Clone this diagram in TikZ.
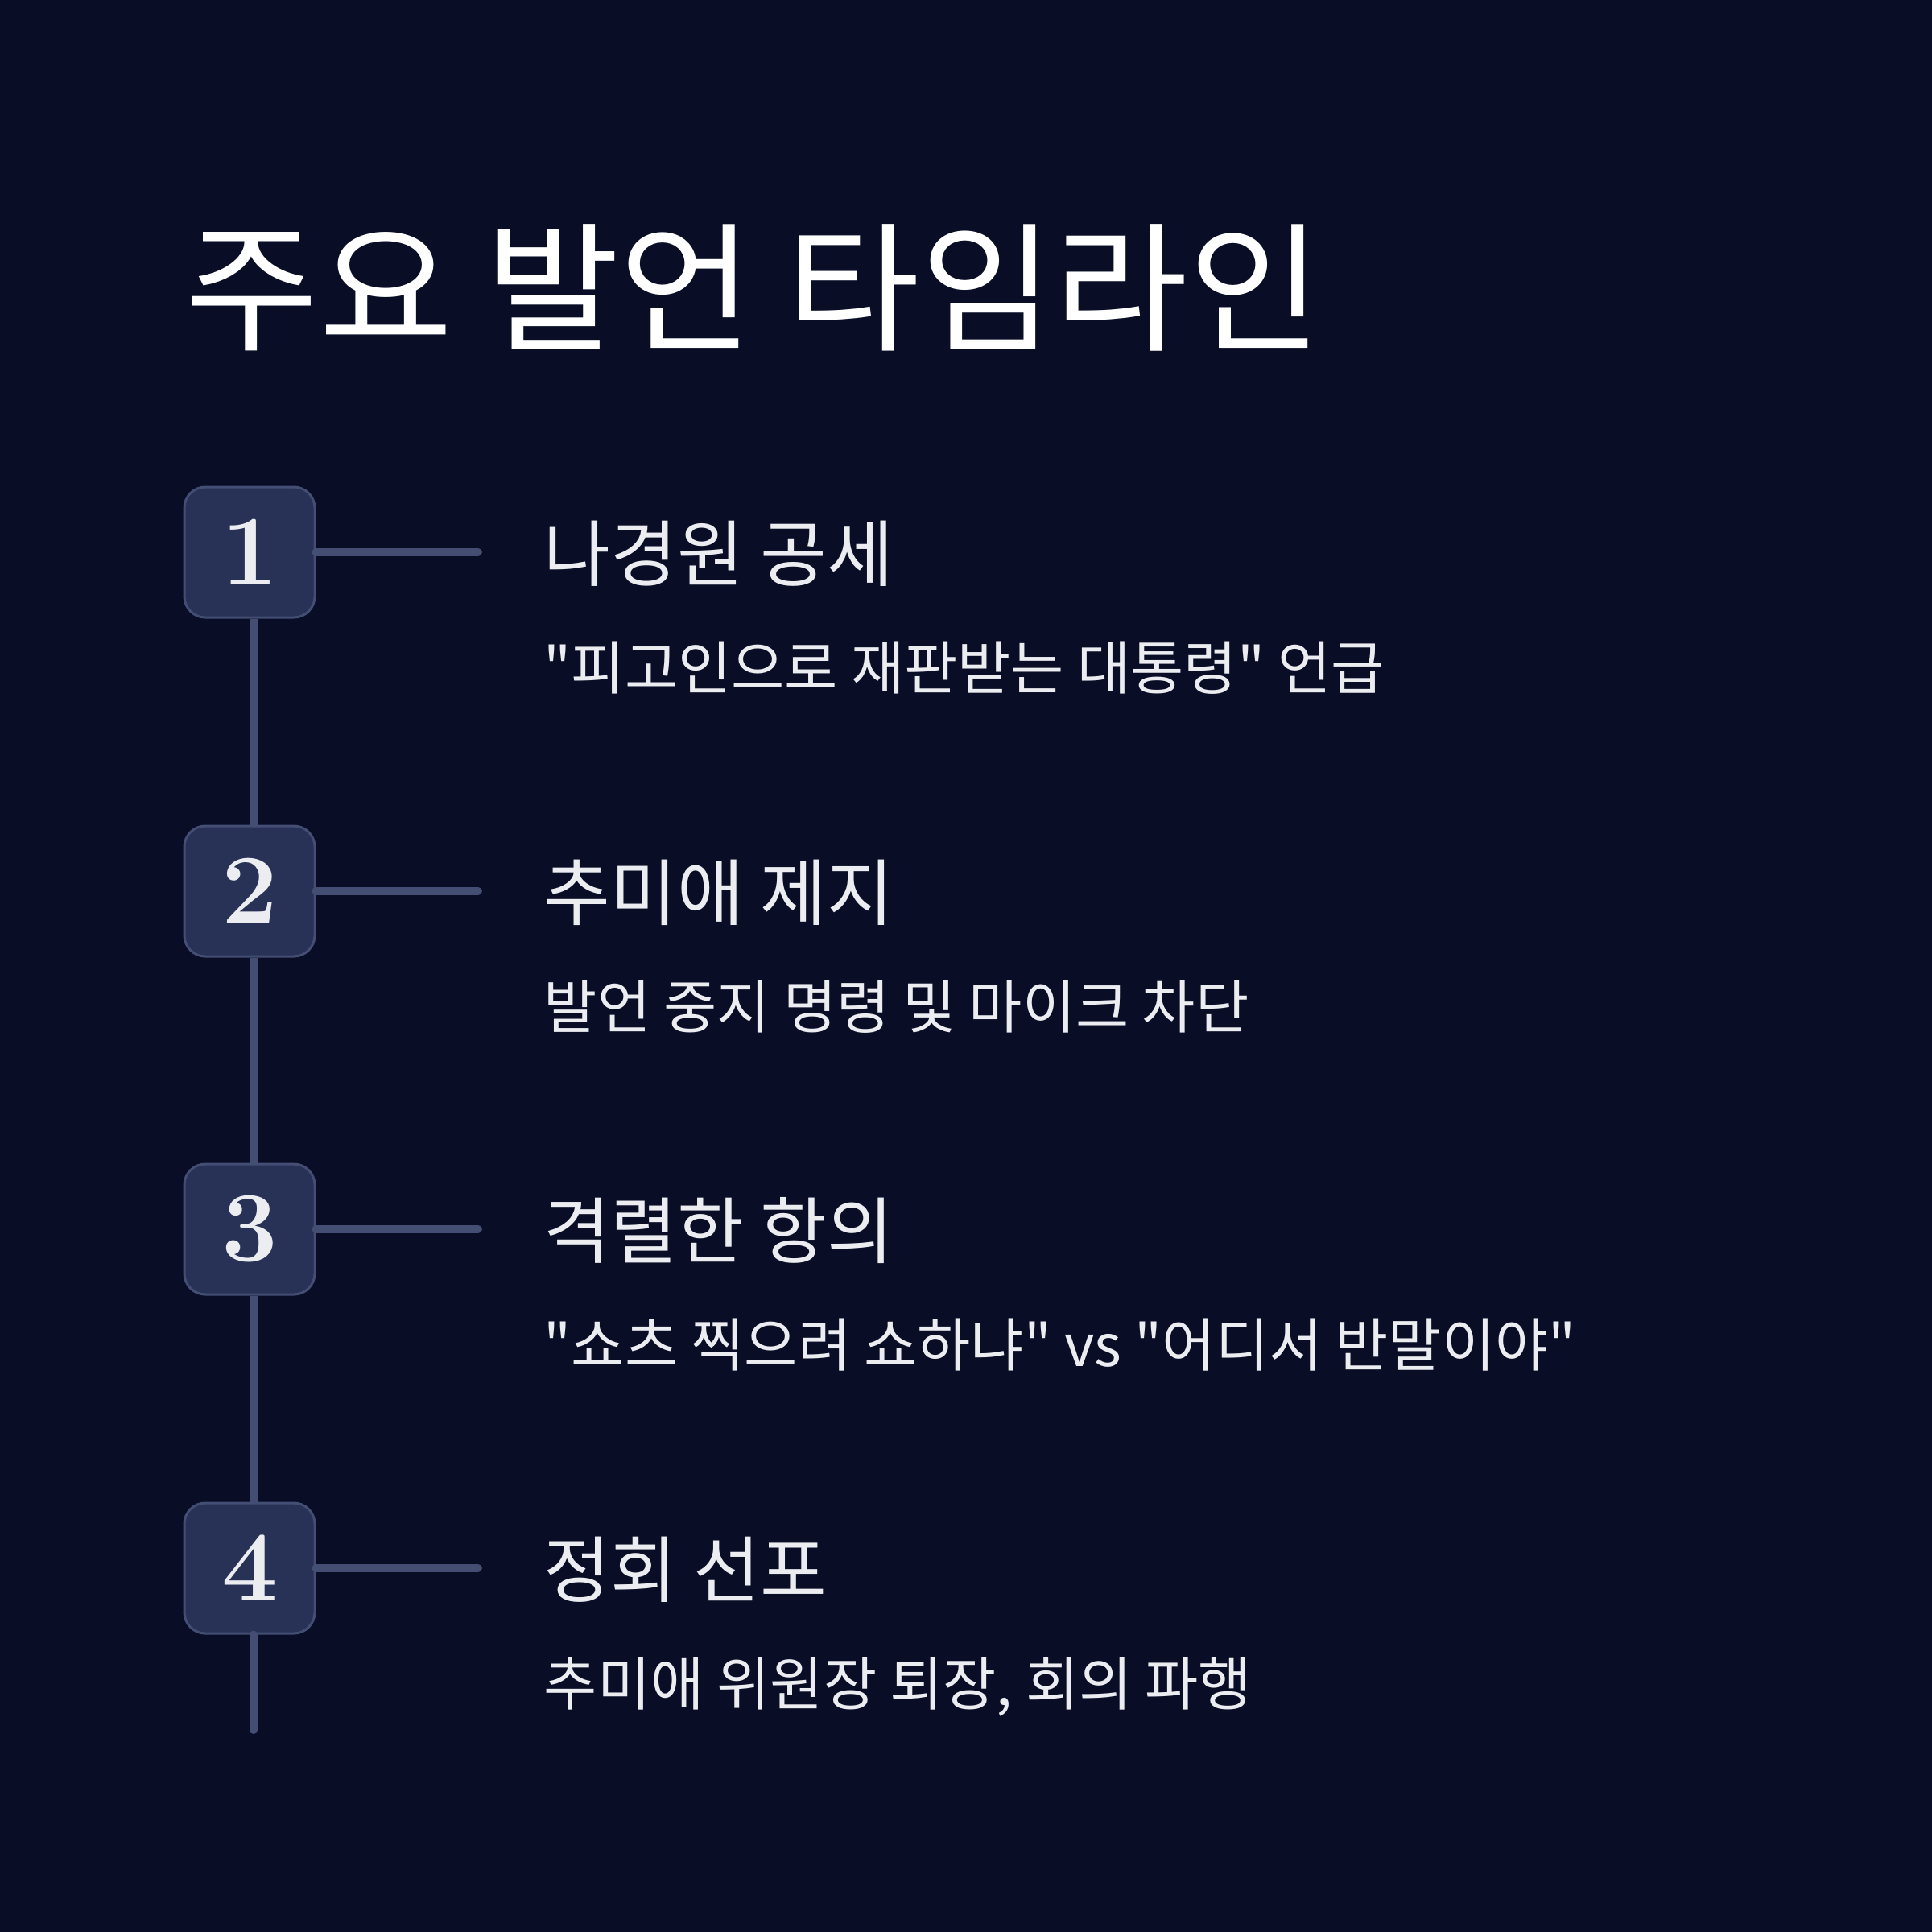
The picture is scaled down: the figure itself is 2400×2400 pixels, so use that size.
\documentclass[tikz,border=0pt]{standalone}
\usepackage{fontspec}
\newfontfamily\kr{Noto Sans CJK KR}
\newfontfamily\krw[FakeStretch=1.04]{Noto Sans CJK KR}
\definecolor{bg}{HTML}{090E26}
\definecolor{boxfill}{HTML}{283256}
\definecolor{boxline}{HTML}{444E74}
\definecolor{conn}{HTML}{444E72}
\definecolor{txt}{HTML}{ECEDF1}
\tikzset{
  numbox/.style={draw=boxline, line width=0.75pt, fill=boxfill, rounded corners=6.5pt,
    minimum width=40.5pt, minimum height=40.5pt, inner sep=0pt, text=txt,
    font=\fontsize{31}{31}\selectfont\bfseries},
  conline/.style={draw=conn, line width=2.5pt, line cap=round},
  headtxt/.style={anchor=base west, inner sep=0pt, text=txt, font=\kr\fontsize{22.5}{22.5}\selectfont},
  subtxt/.style={anchor=base west, inner sep=0pt, text=txt, font=\kr\fontsize{18}{18}\selectfont},
  titletxt/.style={anchor=base west, inner sep=0pt, text=white, font=\krw\fontsize{43.5}{43.5}\selectfont}
}
\begin{document}
\begin{tikzpicture}[x=0.25pt,y=-0.25pt]
\fill[bg] (0,0) rectangle (2400,2400);
\useasboundingbox (0,0) rectangle (2400,2400);
\node[titletxt] (title) at (229,422) {주요 발언 타임라인};

\coordinate (b1c) at (315,686);
\coordinate (b2c) at (315,1107);
\coordinate (b3c) at (315,1527);
\coordinate (b4c) at (315,1948);
\coordinate (spineend) at (315,2149);

\node[numbox] (b1) at (310,686) {1};
\node[numbox] (b2) at (310,1107) {2};
\node[numbox] (b3) at (310,1527) {3};
\node[numbox] (b4) at (310,1948) {4};

\draw[conline, line cap=butt] (b1c |- b1.south) -- (b2c |- b2.north);
\draw[conline, line cap=butt] (b2c |- b2.south) -- (b3c |- b3.north);
\draw[conline, line cap=butt] (b3c |- b3.south) -- (b4c |- b4.north);
\draw[conline] (b4c |- b4.south) -- (spineend);

\coordinate (h1) at (594,686);
\coordinate (h2) at (594,1107);
\coordinate (h3) at (594,1527);
\coordinate (h4) at (594,1948);
\draw[conline] (b1.east) -- (h1);
\draw[conline] (b2.east) -- (h2);
\draw[conline] (b3.east) -- (h3);
\draw[conline] (b4.east) -- (h4);

\node[headtxt] (t1) at (675,721) {나경원 공세};
\node[subtxt] (s1) at (675,856) {"피고인으로 재판받는 대통령" 언급};
\node[headtxt] (t2) at (675,1142) {추미애 제지};
\node[subtxt] (s2) at (675,1277) {발언 중지 명령 및 마이크 차단};
\node[headtxt] (t3) at (675,1562) {격렬한 항의};
\node[subtxt] (s3) at (675,1697) {"쇼츠 찍으려 쇼하냐" vs "어디서 반말이야"};
\node[headtxt] (t4) at (675,1983) {정회 선포};
\node[subtxt] (s4) at (675,2118) {추미애 위원장 퇴장, 회의 파행};
\end{tikzpicture}
\end{document}
